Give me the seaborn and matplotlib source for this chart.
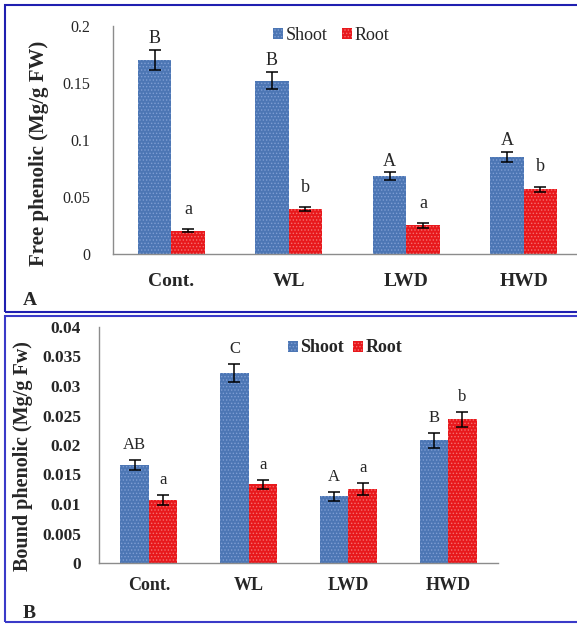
import matplotlib
matplotlib.use('Agg')
import matplotlib.pyplot as plt
import matplotlib.ticker as mticker
from matplotlib.patches import Rectangle, Patch
import pandas as pd
import seaborn as sns

treatments = ['Cont.', 'WL', 'LWD', 'HWD']
organs = ['Shoot', 'Root']

# A. free phenolic
free_shoot = [0.170, 0.152, 0.068, 0.085]
free_shoot_err = [0.0088, 0.0076, 0.0035, 0.0045]
free_root = [0.0205, 0.0395, 0.0251, 0.0567]
free_root_err = [0.001, 0.002, 0.0019, 0.0025]
free_shoot_letters = ['B', 'B', 'A', 'A']
free_root_letters = ['a', 'b', 'a', 'b']

# B. bound phenolic
bound_shoot = [0.0166, 0.0322, 0.0113, 0.0208]
bound_shoot_err = [0.00085, 0.0016, 0.0008, 0.00124]
bound_root = [0.0107, 0.01335, 0.01256, 0.02434]
bound_root_err = [0.00085, 0.0008, 0.001, 0.00127]
bound_shoot_letters = ['AB', 'C', 'A', 'B']
bound_root_letters = ['a', 'a', 'a', 'b']

BLUE = '#4c76b4'
RED = '#e8181c'
BLUE_DOT = '#7e9ed3'
RED_DOT = '#f47070'
GREY = '#8c8c8c'
FONT = 'Liberation Serif'

sns.set_style('white')
plt.rcParams['font.family'] = [FONT, 'DejaVu Serif']
plt.rcParams['hatch.linewidth'] = 0.6

W, H = 577, 624
fig = plt.figure(figsize=(W / 100, H / 100), dpi=100)


def px_axes(left, top, right, bottom):
    return fig.add_axes([left / W, 1 - bottom / H, (right - left) / W, (bottom - top) / H])


def make_df(shoot, root, s_err, r_err, s_lab, r_lab):
    return pd.DataFrame({
        'Treatment': treatments * 2,
        'Organ': ['Shoot'] * 4 + ['Root'] * 4,
        'Value': shoot + root,
        'Err': s_err + r_err,
        'Letter': s_lab + r_lab,
    })


def draw_panel(ax, df, ylim, major, minor, bold_ticks, letter_size, offsets, cap):
    sns.barplot(data=df, x='Treatment', y='Value', hue='Organ', order=treatments,
                hue_order=organs, palette=[BLUE, RED], width=0.57, errorbar=None,
                saturation=1, legend=False, ax=ax)
    dots = [BLUE_DOT, RED_DOT]
    bar_groups = list(ax.containers)[:2]
    for i, cont in enumerate(bar_groups):
        sub = df[df['Organ'] == organs[i]].set_index('Treatment').loc[treatments]
        for bar, (_, row) in zip(cont, sub.iterrows()):
            bar.set_hatch('.....')
            bar.set_edgecolor(dots[i])
            bar.set_linewidth(0)
            xc = bar.get_x() + bar.get_width() / 2
            h = bar.get_height()
            ax.errorbar(xc, h, yerr=row['Err'], fmt='none', ecolor='black',
                        elinewidth=1.1, capsize=cap, capthick=1.1, zorder=5)
            ax.annotate(row['Letter'], (xc, h + row['Err']), xytext=(0, offsets[i]),
                        textcoords='offset points', ha='center', va='bottom',
                        fontsize=letter_size, fontfamily=FONT)
    ax.set_xlim(-0.5, 3.5)
    ax.set_ylim(*ylim)
    ax.yaxis.set_major_locator(mticker.MultipleLocator(major))
    ax.yaxis.set_minor_locator(mticker.MultipleLocator(minor))
    ax.yaxis.set_major_formatter(mticker.FuncFormatter(lambda v, p: '%g' % round(v, 4)))
    ax.xaxis.set_minor_locator(mticker.FixedLocator([0.5, 1.5, 2.5, 3.5]))
    for s in ['top', 'right']:
        ax.spines[s].set_visible(False)
    for s in ['left', 'bottom']:
        ax.spines[s].set_color(GREY)
        ax.spines[s].set_linewidth(1)
    ax.tick_params(axis='x', which='major', length=0)
    ax.tick_params(axis='x', which='minor', length=5, direction='out', color=GREY)
    ax.tick_params(axis='y', which='major', length=8, direction='inout', color=GREY)
    ax.tick_params(axis='y', which='minor', length=4, direction='in', color=GREY)
    ax.set_xlabel('')
    for t in ax.get_xticklabels():
        t.set_fontweight('bold')
    if bold_ticks:
        for t in ax.get_yticklabels():
            t.set_fontweight('bold')


# ---- panel A
axA = px_axes(112.5, 26, 582.5, 254)
dfA = make_df(free_shoot, free_root, free_shoot_err, free_root_err,
              free_shoot_letters, free_root_letters)
draw_panel(axA, dfA, (0, 0.2), 0.05, 0.01, False, 13, (2, 8), 4.5)
axA.tick_params(axis='x', labelsize=14, pad=14)
axA.tick_params(axis='y', labelsize=11.5, pad=12)
axA.set_ylabel('Free phenolic (Mg/g FW)', fontsize=15, fontweight='bold', va='center')
axA.yaxis.set_label_coords(-0.156, 0.443)
hA = [Patch(facecolor=c, edgecolor=d, hatch='.....', linewidth=0) for c, d in
      [(BLUE, BLUE_DOT), (RED, RED_DOT)]]
axA.legend(hA, organs, loc='center', bbox_to_anchor=(331 / W, 1 - 35 / H),
           bbox_transform=fig.transFigure, ncol=2, frameon=False, fontsize=13,
           handlelength=0.55, handleheight=0.55, handletextpad=0.15, columnspacing=0.8)

# ---- panel B
axB = px_axes(99, 327, 498, 563)
dfB = make_df(bound_shoot, bound_root, bound_shoot_err, bound_root_err,
              bound_shoot_letters, bound_root_letters)
draw_panel(axB, dfB, (0, 0.04), 0.005, 0.001, True, 12, (5, 5), 4.5)
axB.tick_params(axis='x', labelsize=13, pad=10)
axB.tick_params(axis='y', labelsize=12.5, pad=9)
axB.tick_params(axis='y', which='minor', length=3)
axB.set_ylabel('Bound phenolic (Mg/g Fw)', fontsize=14.5, fontweight='bold', va='center')
axB.yaxis.set_label_coords(-0.19, 0.453)
hB = [Patch(facecolor=c, edgecolor=d, hatch='.....', linewidth=0) for c, d in
      [(BLUE, BLUE_DOT), (RED, RED_DOT)]]
axB.legend(hB, organs, loc='center', bbox_to_anchor=(345 / W, 1 - 348 / H),
           bbox_transform=fig.transFigure, ncol=2, frameon=False,
           handlelength=0.55, handleheight=0.55, handletextpad=0.15, columnspacing=0.5,
           prop={'family': FONT, 'weight': 'bold', 'size': 13})

# panel frames and letters
fig.patches.append(Rectangle((5 / W, 1 - 312 / H), 600 / W, 307 / H, transform=fig.transFigure,
                             fill=False, edgecolor='#1f1fb0', linewidth=1.5))
fig.patches.append(Rectangle((5 / W, 1 - 622 / H), 600 / W, 306 / H, transform=fig.transFigure,
                             fill=False, edgecolor='#3a3ac8', linewidth=1.5))
fig.text(30 / W, 1 - 300 / H, 'A', fontsize=14, fontweight='bold', ha='center', va='center')
fig.text(29 / W, 1 - 614 / H, 'B', fontsize=14, fontweight='bold', ha='center', va='center')

fig.savefig('out.png', dpi=100)
